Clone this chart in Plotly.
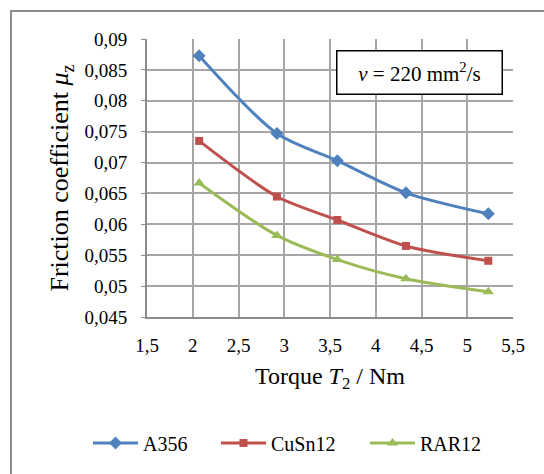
import plotly.graph_objects as go

torque_A356 = [2.07, 2.92, 3.58, 4.33, 5.23]
mu_A356 = [0.0873, 0.0747, 0.0703, 0.0651, 0.0617]
torque_CuSn12 = [2.07, 2.92, 3.58, 4.33, 5.23]
mu_CuSn12 = [0.0735, 0.0645, 0.0607, 0.0565, 0.0541]
torque_RAR12 = [2.07, 2.92, 3.58, 4.33, 5.23]
mu_RAR12 = [0.0667, 0.0582, 0.0543, 0.0512, 0.0491]

x_ticks = [1.5, 2, 2.5, 3, 3.5, 4, 4.5, 5, 5.5]
x_ticktext = ["1,5", "2", "2,5", "3", "3,5", "4", "4,5", "5", "5,5"]
y_ticks = [0.045, 0.05, 0.055, 0.06, 0.065, 0.07, 0.075, 0.08, 0.085, 0.09]
y_ticktext = ["0,045", "0,05", "0,055", "0,06", "0,065", "0,07", "0,075", "0,08", "0,085", "0,09"]

FONT = "Liberation Serif, Times New Roman, serif"

W, H = 544, 474
L, R, T, B = 147, 31, 39, 157
pw, ph = W - L - R, H - T - B

def px_x(p):
    return (p - L) / pw

def px_y(p):
    return (H - B - p) / ph

fig = go.Figure()
series = [
    ("A356", torque_A356, mu_A356, "#4F81BD", "diamond", 10, "legend", 88),
    ("CuSn12", torque_CuSn12, mu_CuSn12, "#C0504D", "square", 8, "legend2", 216),
    ("RAR12", torque_RAR12, mu_RAR12, "#9BBB59", "triangle-up", 10, "legend3", 365),
]
legends = {}
for name, xs, ys, col, sym, sz, lg, lx in series:
    fig.add_trace(go.Scatter(
        x=xs, y=ys, name=name, mode="lines+markers", legend=lg,
        line=dict(color=col, width=3, shape="spline", smoothing=0.8),
        marker=dict(symbol=sym, size=sz, color=col),
    ))
    legends[lg] = dict(orientation="h", x=px_x(lx), xanchor="left",
                       y=px_y(443), yanchor="middle", itemwidth=45,
                       font=dict(family=FONT, size=20, color="black"),
                       bgcolor="rgba(0,0,0,0)")

fig.update_layout(
    width=W, height=H,
    margin=dict(l=L, r=R, t=T, b=B, autoexpand=False),
    paper_bgcolor="white", plot_bgcolor="white",
    font=dict(family=FONT, size=19, color="black"),
    showlegend=True,
    **legends,
    xaxis=dict(range=[1.5, 5.5], tickvals=x_ticks, ticktext=x_ticktext,
               showgrid=True, gridcolor="#a6a6a6", gridwidth=1.5,
               showline=True, linecolor="#8c8c8c", linewidth=2,
               zeroline=False, ticks="", tickfont=dict(size=19),
               ticklabelstandoff=10,
               title=dict(text="Torque <i>T</i><sub>2</sub> / Nm",
                          font=dict(size=24), standoff=12)),
    yaxis=dict(range=[0.045, 0.09], tickvals=y_ticks, ticktext=y_ticktext,
               showgrid=True, gridcolor="#a6a6a6", gridwidth=1.5,
               showline=True, linecolor="#8c8c8c", linewidth=2,
               zeroline=False, ticks="outside", ticklen=4, tickcolor="#8c8c8c",
               tickfont=dict(size=19), ticklabelstandoff=10,
               title=dict(text="Friction coefficient <i>μ</i><sub>z</sub>",
                          font=dict(size=26), standoff=8)),
)

# outer chart border (left & top visible)
fig.add_shape(type="rect", xref="paper", yref="paper",
              x0=px_x(11), x1=px_x(560), y0=px_y(11), y1=px_y(490),
              line=dict(color="#8c8c8c", width=2), layer="below")

fig.add_annotation(
    xref="paper", yref="paper", x=px_x(419), y=px_y(72),
    text="<i>ν</i> = 220 mm<sup>2</sup>/s", showarrow=False,
    font=dict(family=FONT, size=21, color="black"),
    bordercolor="black", borderwidth=1.5, bgcolor="white",
    width=162, height=40, xanchor="center", yanchor="middle",
)

fig.write_html("out.html", config={"displayModeBar": False},
               post_script="document.body.style.margin='0';document.body.style.padding='0';")
